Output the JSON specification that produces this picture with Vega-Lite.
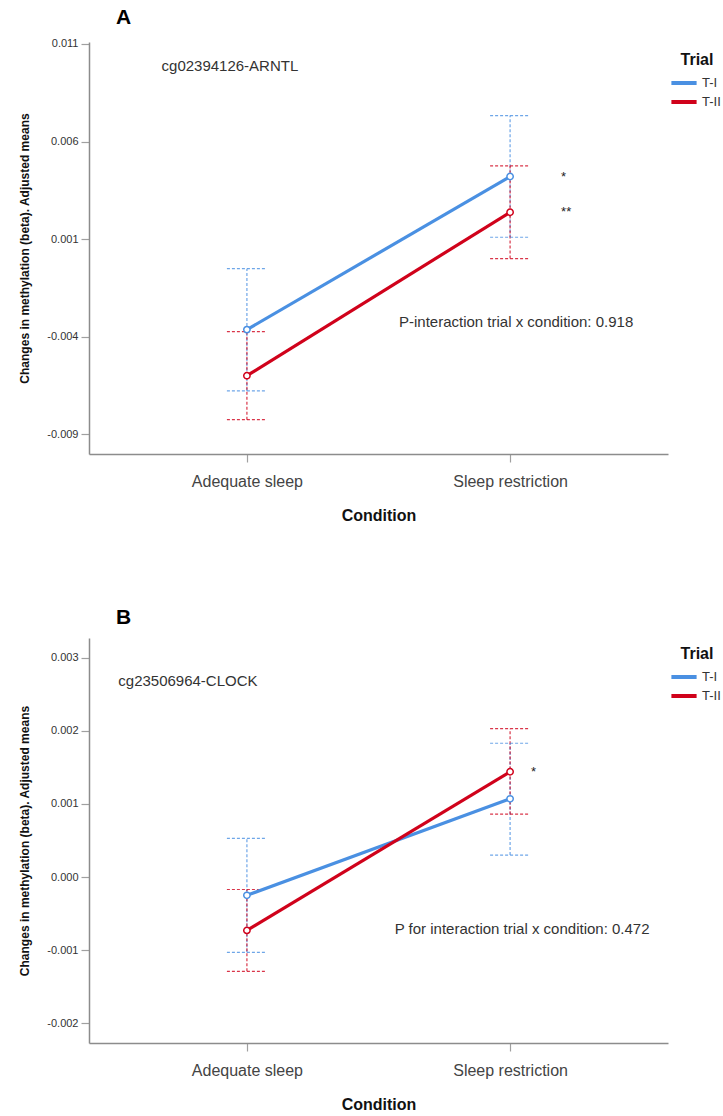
{
  "$schema": "https://vega.github.io/schema/vega-lite/v6.json",
  "padding": {"left": 18, "top": 6, "right": 5, "bottom": 5},
  "config": {
    "font": "Liberation Sans",
    "view": {"stroke": null},
    "locale": {"number": {"decimal": ".", "thousands": ",", "grouping": [3], "currency": ["$", ""], "minus": "-"}},
    "axis": {"grid": false, "domainColor": "#8c8c8c", "domainWidth": 1.5, "tickColor": "#a0a0a0", "tickWidth": 1.2, "labelColor": "#333333", "titleColor": "#111111", "titleFontWeight": "bold"},
    "legend": {"titleFontSize": 16, "titleFontWeight": "bold", "titleColor": "#111111", "labelFontSize": 13, "labelColor": "#333333", "symbolSize": 324, "symbolStrokeWidth": 4, "labelOffset": 7, "rowPadding": 0, "titleAnchor": "middle", "titlePadding": 4}
  },
  "datasets": {
    "a_means": [
      {"condition": "Adequate sleep", "trial": "T-I", "mean": -0.00363, "lower": -0.00677, "upper": -0.00051, "sig": ""},
      {"condition": "Adequate sleep", "trial": "T-II", "mean": -0.00599, "lower": -0.00824, "upper": -0.00373, "sig": ""},
      {"condition": "Sleep restriction", "trial": "T-I", "mean": 0.00421, "lower": 0.0011, "upper": 0.00733, "sig": "*"},
      {"condition": "Sleep restriction", "trial": "T-II", "mean": 0.00238, "lower": 0.00001, "upper": 0.00476, "sig": "**"}
    ],
    "b_means": [
      {"condition": "Adequate sleep", "trial": "T-I", "mean": -0.00025, "lower": -0.00103, "upper": 0.00053, "sig": ""},
      {"condition": "Adequate sleep", "trial": "T-II", "mean": -0.00073, "lower": -0.00129, "upper": -0.00017, "sig": ""},
      {"condition": "Sleep restriction", "trial": "T-I", "mean": 0.00107, "lower": 0.0003, "upper": 0.00183, "sig": ""},
      {"condition": "Sleep restriction", "trial": "T-II", "mean": 0.00144, "lower": 0.00086, "upper": 0.00203, "sig": "*"}
    ]
  },
  "spacing": 84,
  "resolve": {"scale": {"color": "independent", "y": "independent", "x": "independent"}, "legend": {"color": "independent"}},
  "vconcat": [
    {
      "width": 579,
      "height": 412,
      "title": {"text": "A", "anchor": "start", "frame": "group", "dx": 27, "fontSize": 21, "fontWeight": "bold", "color": "#000000", "offset": 10},
      "data": {"name": "a_means"},
      "encoding": {
        "x": {"field": "condition", "type": "nominal", "sort": ["Adequate sleep", "Sleep restriction"],
          "scale": {"type": "point", "padding": 0.6},
          "axis": {"title": "Condition", "labelAngle": 0, "labelFontSize": 16, "labelColor": "#444444", "tickSize": 8, "labelPadding": 11, "titleFontSize": 16, "titlePadding": 18}},
        "color": {"field": "trial", "type": "nominal", "scale": {"domain": ["T-I", "T-II"], "range": ["#4A90E2", "#D0021B"]},
          "legend": {"title": "Trial", "orient": "none", "legendX": 584, "legendY": 10, "symbolType": "M-1.4,0H1.4", "symbolStrokeWidth": 4, "symbolDash": [], "symbolOpacity": 1}}
      },
      "layer": [
        {
          "mark": {"type": "rule", "strokeDash": [3, 2], "strokeWidth": 1.2, "opacity": 0.8},
          "encoding": {
            "y": {"field": "lower", "type": "quantitative",
              "scale": {"domain": [-0.01, 0.0111], "nice": false, "zero": false},
              "axis": {"title": "Changes in methylation (beta). Adjusted means", "values": [-0.009, -0.004, 0.001, 0.006, 0.011], "format": ".3f", "labelFontSize": 11, "tickSize": 8, "labelPadding": 3, "titleFontSize": 12, "titlePadding": 15}},
            "y2": {"field": "upper"}
          }
        },
        {
          "mark": {"type": "rule", "strokeDash": [3, 2], "strokeWidth": 1.2, "opacity": 0.8, "xOffset": -20, "x2Offset": 20},
          "encoding": {
            "x2": {"field": "condition"},
            "y": {"field": "lower", "type": "quantitative"}
          }
        },
        {
          "mark": {"type": "rule", "strokeDash": [3, 2], "strokeWidth": 1.2, "opacity": 0.8, "xOffset": -20, "x2Offset": 20},
          "encoding": {
            "x2": {"field": "condition"},
            "y": {"field": "upper", "type": "quantitative"}
          }
        },
        {
          "mark": {"type": "line", "strokeWidth": 3.2},
          "encoding": {
            "y": {"field": "mean", "type": "quantitative"}
          }
        },
        {
          "mark": {"type": "point", "filled": false, "fill": "white", "fillOpacity": 1, "size": 40, "strokeWidth": 1.5, "opacity": 1},
          "encoding": {
            "y": {"field": "mean", "type": "quantitative"}
          }
        },
        {
          "mark": {"type": "text", "align": "left", "baseline": "middle", "dx": 51, "fontSize": 13},
          "encoding": {
            "y": {"field": "mean", "type": "quantitative"},
            "text": {"field": "sig"},
            "color": {"value": "#222222"}
          }
        },
        {
          "data": {"values": [{"condition": "Adequate sleep", "y": 0.00987, "label": "cg02394126-ARNTL"}]},
          "mark": {"type": "text", "align": "center", "baseline": "middle", "dx": -17, "fontSize": 15},
          "encoding": {
            "y": {"field": "y", "type": "quantitative"},
            "text": {"field": "label"},
            "color": {"value": "#333333"}
          }
        },
        {
          "data": {"values": [{"condition": "Sleep restriction", "y": -0.00324, "label": "P-interaction trial x condition: 0.918"}]},
          "mark": {"type": "text", "align": "center", "baseline": "middle", "dx": 6, "fontSize": 15},
          "encoding": {
            "y": {"field": "y", "type": "quantitative"},
            "text": {"field": "label"},
            "color": {"value": "#333333"}
          }
        }
      ]
    },
    {
      "width": 579,
      "height": 405,
      "title": {"text": "B", "anchor": "start", "frame": "group", "dx": 27, "fontSize": 21, "fontWeight": "bold", "color": "#000000", "offset": 10},
      "data": {"name": "b_means"},
      "encoding": {
        "x": {"field": "condition", "type": "nominal", "sort": ["Adequate sleep", "Sleep restriction"],
          "scale": {"type": "point", "padding": 0.6},
          "axis": {"title": "Condition", "labelAngle": 0, "labelFontSize": 16, "labelColor": "#444444", "tickSize": 8, "labelPadding": 11, "titleFontSize": 16, "titlePadding": 18}},
        "color": {"field": "trial", "type": "nominal", "scale": {"domain": ["T-I", "T-II"], "range": ["#4A90E2", "#D0021B"]},
          "legend": {"title": "Trial", "orient": "none", "legendX": 584, "legendY": 8, "symbolType": "M-1.4,0H1.4", "symbolStrokeWidth": 4, "symbolDash": [], "symbolOpacity": 1}}
      },
      "layer": [
        {
          "mark": {"type": "rule", "strokeDash": [3, 2], "strokeWidth": 1.2, "opacity": 0.8},
          "encoding": {
            "y": {"field": "lower", "type": "quantitative",
              "scale": {"domain": [-0.00227, 0.00327], "nice": false, "zero": false},
              "axis": {"title": "Changes in methylation (beta). Adjusted means", "values": [-0.002, -0.001, 0, 0.001, 0.002, 0.003], "format": ".3f", "labelFontSize": 11, "tickSize": 8, "labelPadding": 3, "titleFontSize": 12, "titlePadding": 15}},
            "y2": {"field": "upper"}
          }
        },
        {
          "mark": {"type": "rule", "strokeDash": [3, 2], "strokeWidth": 1.2, "opacity": 0.8, "xOffset": -20, "x2Offset": 20},
          "encoding": {
            "x2": {"field": "condition"},
            "y": {"field": "lower", "type": "quantitative"}
          }
        },
        {
          "mark": {"type": "rule", "strokeDash": [3, 2], "strokeWidth": 1.2, "opacity": 0.8, "xOffset": -20, "x2Offset": 20},
          "encoding": {
            "x2": {"field": "condition"},
            "y": {"field": "upper", "type": "quantitative"}
          }
        },
        {
          "mark": {"type": "line", "strokeWidth": 3.2},
          "encoding": {
            "y": {"field": "mean", "type": "quantitative"}
          }
        },
        {
          "mark": {"type": "point", "filled": false, "fill": "white", "fillOpacity": 1, "size": 40, "strokeWidth": 1.5, "opacity": 1},
          "encoding": {
            "y": {"field": "mean", "type": "quantitative"}
          }
        },
        {
          "mark": {"type": "text", "align": "left", "baseline": "middle", "dx": 21, "fontSize": 13},
          "encoding": {
            "y": {"field": "mean", "type": "quantitative"},
            "text": {"field": "sig"},
            "color": {"value": "#222222"}
          }
        },
        {
          "data": {"values": [{"condition": "Adequate sleep", "y": 0.00268, "label": "cg23506964-CLOCK"}]},
          "mark": {"type": "text", "align": "center", "baseline": "middle", "dx": -59, "fontSize": 15},
          "encoding": {
            "y": {"field": "y", "type": "quantitative"},
            "text": {"field": "label"},
            "color": {"value": "#333333"}
          }
        },
        {
          "data": {"values": [{"condition": "Sleep restriction", "y": -0.000705, "label": "P for interaction trial x condition: 0.472"}]},
          "mark": {"type": "text", "align": "center", "baseline": "middle", "dx": 12, "fontSize": 15},
          "encoding": {
            "y": {"field": "y", "type": "quantitative"},
            "text": {"field": "label"},
            "color": {"value": "#333333"}
          }
        }
      ]
    }
  ]
}
